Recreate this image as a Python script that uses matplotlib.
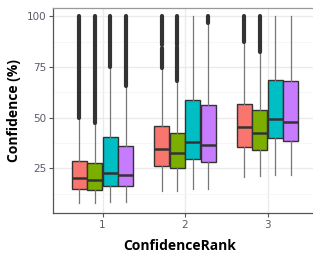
import numpy as np
import matplotlib
matplotlib.use("Agg")
import matplotlib.pyplot as plt
from matplotlib.ticker import MultipleLocator

# box statistics per rank (1, 2, 3), one value per group (red, green, cyan, purple)
ranks = [1, 2, 3]
group_colors = ["#F8766D", "#7CAE00", "#00BFC4", "#C77CFF"]

q1 = [[14.6, 14.1, 16.2, 16.1],
      [26.1, 25.3, 29.5, 28.3],
      [35.4, 34.0, 39.8, 38.4]]
med = [[20.1, 19.1, 22.5, 21.5],
       [34.4, 32.4, 37.7, 36.5],
       [45.3, 42.6, 49.2, 47.6]]
q3 = [[28.8, 27.5, 40.3, 36.2],
      [45.9, 42.3, 58.8, 56.0],
      [56.6, 53.5, 68.7, 67.8]]
whis_lo = [[7.7, 7.7, 8.5, 8.5],
           [13.9, 13.9, 14.9, 14.9],
           [20.8, 21.2, 21.7, 21.7]]
whis_hi = [[50.0, 47.4, 75.0, 65.4],
           [74.5, 67.8, 100.0, 96.7],
           [87.1, 82.4, 100.0, 100.0]]
# dense runs of outlier points (low, high)
outlier_runs = [[[(50.0, 100.0)], [(47.4, 100.0)], [(75.0, 100.0)], [(65.4, 100.0)]],
                [[(74.5, 84.5), (86.0, 100.0)], [(67.8, 84.6), (85.7, 100.0)], [], [(96.7, 100.0)]],
                [[(87.1, 100.0)], [(82.4, 100.0)], [], []]]

fig = plt.figure(figsize=(3.13, 2.58), dpi=100)
# panel runs past the right edge of the image, as in the cropped reference
ax = fig.add_axes([53 / 313, 1 - 213.3 / 258, 330 / 313, (213.3 - 7.5) / 258])

n_groups = len(group_colors)
box_w = 0.75 / n_groups

for r_i, rank in enumerate(ranks):
    for g in range(n_groups):
        pos = rank + (g - (n_groups - 1) / 2) * box_w
        stats = [dict(med=med[r_i][g], q1=q1[r_i][g], q3=q3[r_i][g],
                      whislo=whis_lo[r_i][g], whishi=whis_hi[r_i][g], fliers=[])]
        ax.bxp(stats, positions=[pos], widths=box_w * 0.98, patch_artist=True,
               showcaps=False, showfliers=False,
               boxprops=dict(facecolor=group_colors[g], edgecolor="#333333", linewidth=1.0),
               whiskerprops=dict(color="#777777", linewidth=0.9),
               medianprops=dict(color="#333333", linewidth=1.8),
               manage_ticks=False, zorder=3)
        for lo, hi in outlier_runs[r_i][g]:
            ax.vlines(pos, lo, hi, colors="#333333", linewidth=3.0,
                      capstyle="round", zorder=4)

# same scale as before: 82.5 px per rank unit, 0.4 at the left edge
ax.set_xlim(0.4, 0.4 + 330 / 82.5)
ax.set_ylim(2.75, 104.3)
ax.set_xticks(ranks)
ax.set_xticklabels([str(r) for r in ranks])
ax.set_yticks([25, 50, 75, 100])
ax.yaxis.set_minor_locator(MultipleLocator(12.5))

ax.grid(True, which="major", color="#EBEBEB", linewidth=1.0, zorder=0)
ax.grid(True, which="minor", axis="y", color="#F5F5F5", linewidth=0.6, zorder=0)
ax.set_axisbelow(True)

for side in ["left", "bottom", "top"]:
    ax.spines[side].set_color("#555555")
    ax.spines[side].set_linewidth(0.9)
ax.spines["top"].set_color("#999999")
ax.spines["right"].set_visible(False)

ax.tick_params(axis="both", which="major", length=3, width=0.8, color="#555555",
               labelsize=7.5, labelcolor="#5a5a6a", pad=2)
ax.tick_params(axis="y", which="minor", length=0)

ax.set_xlabel("ConfidenceRank", fontsize=10, fontweight="bold",
              family="Open Sans", labelpad=6)
ax.set_ylabel("Confidence (%)", fontsize=10, fontweight="bold",
              family="Open Sans", labelpad=4)
# keep the x title centred where it sits in the reference
ax.xaxis.set_label_coords((180 - 53) / 330, -0.125)

fig.savefig("out.png", dpi=100)
